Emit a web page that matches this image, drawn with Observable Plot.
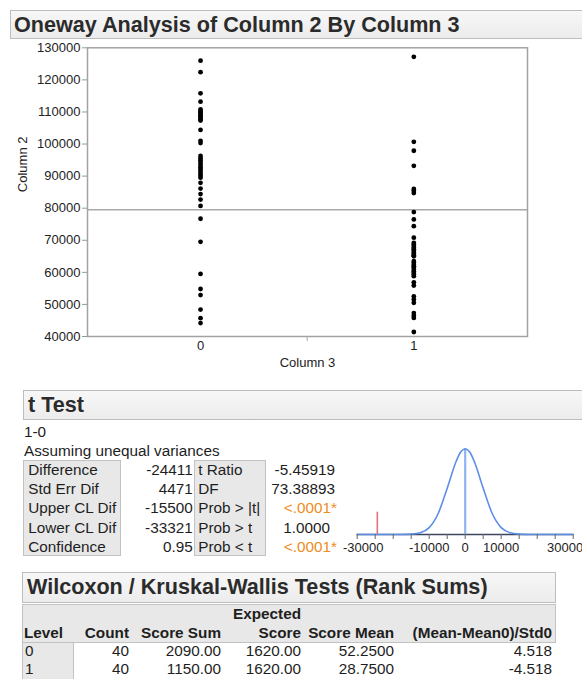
<!DOCTYPE html>
<html><head><meta charset="utf-8">
<script src="https://cdn.jsdelivr.net/npm/d3@7"></script>
<script src="https://cdn.jsdelivr.net/npm/@observablehq/plot@0.6"></script>
<style>
body{margin:0;background:#fff;}
#root{position:relative;width:582px;height:679px;overflow:hidden;font-family:"Liberation Sans",Arial,Helvetica,sans-serif;color:#1e1e1e;background:#fff;}
.hdr{position:absolute;box-sizing:border-box;background:linear-gradient(#f7f7f7,#ececec);border:1px solid #bdbdbd;font-weight:bold;font-size:21.6px;color:#2b2b2b;padding-left:3px;line-height:27px;white-space:nowrap;}
.abs{position:absolute;white-space:nowrap;}
.gbox{position:absolute;box-sizing:border-box;background:#e8e8e8;border:1px solid #c2c2c2;}
.plotbox{position:absolute;}
.plotbox svg{overflow:visible;}
</style></head><body><div id="root"></div>
<script>
// ---------- data ----------
const groupLevels = [0, 1];
const column2Level0 = [126000,122400,115800,113200,110800,110300,109900,109400,109000,108600,108100,107700,107300,104400,101000,100300,96300,95600,94900,94200,93500,92800,92100,91400,90700,90100,89500,87900,86100,84400,82700,80700,76700,69500,59500,54800,52900,48400,45700,44200];
const column2Level1 = [127200,100700,97900,93200,86000,85400,84700,78800,76500,74400,70800,69200,68700,68200,67700,67200,66700,66200,65700,65300,65000,63500,63000,62400,61900,61400,60800,60300,59800,59300,58800,56900,55900,52500,51500,50500,47300,46500,45800,41400];
const yTicks = [40000,50000,60000,70000,80000,90000,100000,110000,120000,130000];

const tTestTitle = "t Test";
const tTestContrast = "1-0";
const tTestNote = "Assuming unequal variances";
const tLabels1 = ["Difference","Std Err Dif","Upper CL Dif","Lower CL Dif","Confidence"];
const tValues1 = ["-24411","4471","-15500","-33321","0.95"];
const tLabels2 = ["t Ratio","DF","Prob > |t|","Prob > t","Prob < t"];
const tValues2 = ["-5.45919","73.38893","<.0001*","1.0000","<.0001*"];
const tValues2Highlight = [false,false,true,false,true];
const tDifference = -24411;

// density curve of the difference (relative height)
const tCurveX = [-30000,-17500,-15000,-12500,-10000,-7500,-5000,-2500,-1250,0,1250,2500,5000,7500,10000,12500,15000,17500,30000];
const tCurveY = [0,0,0.004,0.02,0.08,0.245,0.54,0.855,0.962,1,0.962,0.855,0.54,0.245,0.08,0.02,0.004,0,0];
const tAxisTicks = [-30000,-25000,-20000,-15000,-10000,-5000,0,5000,10000,15000,20000,25000,30000];
const tAxisLabelsInner = [-10000,0,10000];
const tAxisLabelLeft = [-30000];
const tAxisLabelRight = [30000];

const wilcoxonTitle = "Wilcoxon / Kruskal-Wallis Tests (Rank Sums)";
const wilcoxonHeaderTop = ["","","","Expected","",""];
const wilcoxonHeader = ["Level","Count","Score Sum","Score","Score Mean","(Mean-Mean0)/Std0"];
const wilcoxonLevel = ["0","1"];
const wilcoxonCount = ["40","40"];
const wilcoxonScoreSum = ["2090.00","1150.00"];
const wilcoxonExpected = ["1620.00","1620.00"];
const wilcoxonScoreMean = ["52.2500","28.7500"];
const wilcoxonStd0 = ["4.518","-4.518"];

// ---------- helpers ----------
const root = document.getElementById("root");
const W = 582;
function put(x, yc, text, opt = {}) {
  const d = document.createElement("div");
  d.className = "abs";
  d.textContent = text;
  d.style.fontSize = (opt.size || 15.3) + "px";
  d.style.lineHeight = "20px";
  d.style.top = (yc - 10) + "px";
  if (opt.anchor === "end") d.style.right = (W - x) + "px"; else d.style.left = x + "px";
  if (opt.bold) d.style.fontWeight = "bold";
  if (opt.color) d.style.color = opt.color;
  root.appendChild(d);
  return d;
}
function box(cls, l, t, w, h, text) {
  const d = document.createElement("div");
  d.className = cls;
  d.style.left = l + "px"; d.style.top = t + "px";
  d.style.width = w + "px"; d.style.height = h + "px";
  if (text) d.textContent = text;
  root.appendChild(d);
  return d;
}

// ---------- Oneway header ----------
box("hdr", 10, 10, 590, 29, "Oneway Analysis of Column 2 By Column 3");

// ---------- scatter plot ----------
const points = [
  ...column2Level0.map(v => ({level: groupLevels[0], value: v})),
  ...column2Level1.map(v => ({level: groupLevels[1], value: v}))
];
const grandMean = d3.mean(points, d => d.value);

const scatter = Plot.plot({
  width: 540, height: 340,
  marginLeft: 87, marginRight: 13, marginTop: 7.3, marginBottom: 44,
  style: {fontFamily: '"Liberation Sans", Arial, sans-serif', fontSize: "13px", color: "#222", background: "transparent"},
  x: {domain: [-0.53, 1.533]},
  y: {domain: [40000, 130000]},
  marks: [
    Plot.ruleY([grandMean], {stroke: "#a9a9a9", strokeWidth: 1.5}),
    Plot.frame({stroke: "#a3a3a3", strokeWidth: 1.5}),
    Plot.dot(points, {x: "level", y: "value", r: 2.4, fill: "#000", stroke: null}),
    Plot.axisY({ticks: yTicks, tickSize: 5, tickPadding: 2, tickFormat: d => String(d), label: null, stroke: "#999", fill: "#222"}),
    Plot.axisX({ticks: groupLevels, tickSize: 0, tickPadding: 4, tickFormat: d => String(d), label: null, fill: "#222"}),
    Plot.axisX({ticks: [0.5], tickSize: 5, tickFormat: () => "", label: null, stroke: "#aaa"}),
    Plot.text(["Column 2"], {frameAnchor: "left", dx: -65, rotate: -90, fill: "#222", fontSize: 13}),
    Plot.text(["Column 3"], {frameAnchor: "bottom", dy: 30, fill: "#222", fontSize: 13})
  ]
});
const sp = box("plotbox", 0, 40, 540, 340);
sp.appendChild(scatter);

// ---------- t Test ----------
box("hdr", 23, 390, 580, 30, tTestTitle).style.paddingLeft = "4px";
put(24, 431.7, tTestContrast);
put(24, 450.7, tTestNote);
box("gbox", 23.3, 460, 97.4, 96);
box("gbox", 194.3, 460, 71.4, 96);
const rowC = [470, 489.2, 508.4, 527.6, 546.8];
tLabels1.forEach((t, i) => put(28.3, rowC[i], t));
tValues1.forEach((t, i) => put(192.7, rowC[i], t, {anchor: "end"}));
tLabels2.forEach((t, i) => put(198.3, rowC[i], t));
tValues2.forEach((t, i) => put(tValues2Highlight[i] ? 337 : (t === "1.0000" ? 330 : 335), rowC[i], t, {anchor: "end", color: tValues2Highlight[i] ? "#ef8c22" : null}));

// ---------- t distribution plot ----------
const curve = tCurveX.map((x, i) => ({x, y: tCurveY[i]}));
const tplot = Plot.plot({
  width: 242, height: 140,
  marginLeft: 16.7, marginRight: 9.3, marginTop: 28.3, marginBottom: 26,
  style: {fontFamily: '"Liberation Sans", Arial, sans-serif', fontSize: "13px", color: "#222", background: "transparent", overflow: "visible"},
  x: {domain: [-30000, 30000]},
  y: {domain: [0, 1], axis: null},
  marks: [
    Plot.ruleY([0], {stroke: "#3c4660", strokeWidth: 1.6}),
    Plot.ruleX([0], {y1: 0, y2: 1, stroke: "#8fb3f0", strokeWidth: 2.2}),
    Plot.line(curve, {x: "x", y: "y", stroke: "#5d8fe6", strokeWidth: 1.6, curve: "monotone-x"}),
    Plot.ruleX([tDifference], {y1: 0, y2: 0.26, stroke: "#e8707a", strokeWidth: 1.6}),
    Plot.axisX({ticks: tAxisTicks, tickSize: 5, tickFormat: () => "", label: null, stroke: "#666"}),
    Plot.text(tAxisLabelsInner, {x: d => d, frameAnchor: "bottom", lineAnchor: "top", dy: 8, text: d => String(d), fill: "#222"}),
    Plot.text(tAxisLabelLeft, {x: d => d, frameAnchor: "bottom", lineAnchor: "top", dy: 8, dx: 6, text: d => String(d), fill: "#222"}),
    Plot.text(tAxisLabelRight, {x: d => d, frameAnchor: "bottom", lineAnchor: "top", dy: 8, dx: -8, text: d => String(d), fill: "#222"})
  ]
});
const tp = box("plotbox", 340, 420, 242, 140);
tp.appendChild(tplot);

// ---------- Wilcoxon ----------
box("hdr", 22, 572, 534, 31, wilcoxonTitle).style.paddingLeft = "4px";
box("gbox", 22, 604, 534, 39);
box("gbox", 22, 642, 52, 45);
const colRight = [null, 129, 221, 301, 394, 552];
const hdrTopC = 614, hdrC = 633, rowsC = [650.5, 668.5];
wilcoxonHeaderTop.forEach((t, i) => { if (t) put(colRight[i], hdrTopC, t, {anchor: "end", bold: true}); });
wilcoxonHeader.forEach((t, i) => {
  if (i === 0) put(24, hdrC, t, {bold: true}); else put(colRight[i], hdrC, t, {anchor: "end", bold: true});
});
const cols = [wilcoxonLevel, wilcoxonCount, wilcoxonScoreSum, wilcoxonExpected, wilcoxonScoreMean, wilcoxonStd0];
cols.forEach((col, i) => col.forEach((t, r) => {
  if (i === 0) put(25, rowsC[r], t); else put(colRight[i], rowsC[r], t, {anchor: "end"});
}));
</script></body></html>
